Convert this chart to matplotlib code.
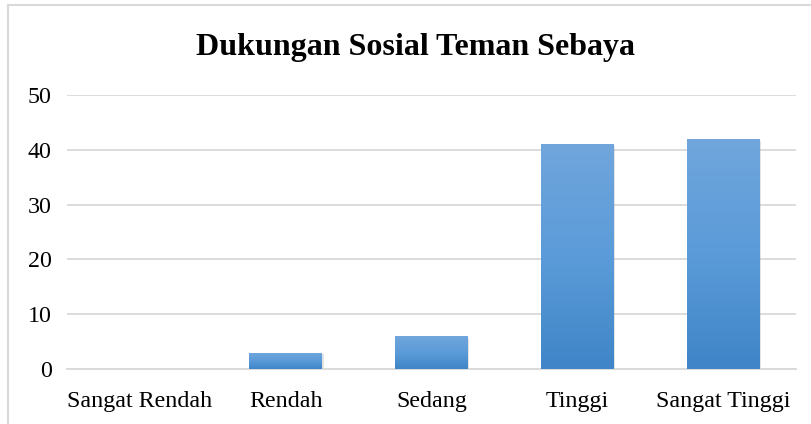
import numpy as np
import matplotlib
matplotlib.use("Agg")
import matplotlib.pyplot as plt
from matplotlib.patches import Rectangle
from matplotlib.lines import Line2D

categories = ["Sangat Rendah", "Rendah", "Sedang", "Tinggi", "Sangat Tinggi"]
values = [0, 3, 6, 41, 42]
yticks = [0, 10, 20, 30, 40, 50]
title = "Dukungan Sosial Teman Sebaya"

plt.rcParams["font.family"] = ["Liberation Serif", "DejaVu Serif"]

fig = plt.figure(figsize=(8.11, 4.24), dpi=100)
ax = fig.add_axes([0.0826, 0.1297, 0.899, 0.646])

x = np.arange(len(categories))
bars = ax.bar(x, values, width=0.5, color="none", edgecolor="none", zorder=3)

# vertical gradient fill clipped to each bar
grad = np.linspace(0, 1, 256).reshape(-1, 1)
cmap = matplotlib.colors.LinearSegmentedColormap.from_list("g", ["#3f85c7", "#5b9bd9", "#70a6dc"])
for b in bars:
    h = b.get_height()
    if h <= 0:
        continue
    x0 = b.get_x()
    w = b.get_width()
    # soft shadow
    ax.add_patch(Rectangle((x0 + 0.01, -0.3), w, h, facecolor="#b0b0b0", alpha=0.35,
                           edgecolor="none", zorder=2.5))
    im = ax.imshow(grad, extent=(x0, x0 + w, 0, h), origin="lower", cmap=cmap,
                   aspect="auto", zorder=3)
    im.set_clip_path(b)

ax.set_xlim(-0.5, len(categories) - 0.5)
ax.set_ylim(0, 50)
ax.set_yticks(yticks)
ax.set_xticks(x)
ax.set_xticklabels(categories)
ax.yaxis.grid(True, color="#d9d9d9", linewidth=1.3, zorder=0)
ax.set_axisbelow(True)
for s in ["top", "right", "left"]:
    ax.spines[s].set_visible(False)
ax.spines["bottom"].set_color("#d9d9d9")
ax.spines["bottom"].set_linewidth(1.3)
ax.tick_params(axis="both", length=0, labelsize=17.3, colors="black")
ax.tick_params(axis="x", pad=16)
ax.tick_params(axis="y", pad=11)

fig.text(416 / 811, 1 - 48 / 424, title, ha="center", va="center",
         fontsize=23, fontweight="bold")

# chart frame (only left and top edges are visible in the crop)
fig.lines.append(Line2D([8 / 811, 8 / 811], [0, 1 - 5 / 424], transform=fig.transFigure,
                        color="#d9d9d9", linewidth=1.5))
fig.lines.append(Line2D([8 / 811, 1], [1 - 5 / 424, 1 - 5 / 424], transform=fig.transFigure,
                        color="#d9d9d9", linewidth=1.5))

fig.savefig("out.png", dpi=100)
